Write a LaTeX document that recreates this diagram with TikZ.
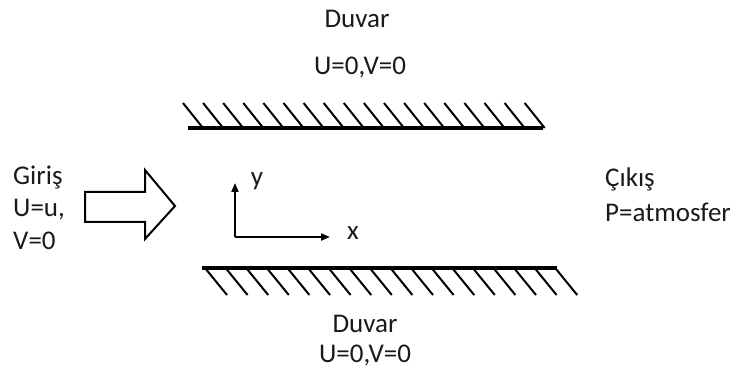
\documentclass[tikz,border=0pt]{standalone}
\usepackage{fontspec}
\setmainfont{Carlito}
\usepackage{xcolor}
\definecolor{inkgray}{HTML}{1A1A1A}
\usepackage{tikz}
\usetikzlibrary{arrows.meta,positioning}
\tikzset{
  labeltext/.style={text=inkgray,font=\fontsize{27}{32}\selectfont,inner sep=0pt},
  wallline/.style={line width=3.6pt,black},
  hatchline/.style={line width=2pt,black},
  axisarrow/.style={-{Triangle[length=9pt,width=7pt]},line width=2pt,black},
  inletarrow/.style={draw=black,line width=2pt,fill=white,line join=miter}
}
\begin{document}
\begin{tikzpicture}[x=1pt,y=-1pt]
\useasboundingbox (0,0) rectangle (739,374);
% upper wall
\coordinate (wt1) at (188,128);
\coordinate (wt2) at (543,128);
\draw[wallline] (wt1) -- (wt2);
\foreach \i in {0,...,17}
  \draw[hatchline] (183+20.1*\i,103) -- ++(20,25);
% lower wall
\coordinate (wb1) at (202,268);
\coordinate (wb2) at (557,268);
\draw[wallline] (wb1) -- (wb2);
\foreach \i in {0,...,17}
  \draw[hatchline] (205+20.6*\i,268) -- ++(22,27);
% inlet arrow
\draw[inletarrow] (85,192) -- (145,192) -- (145,170) -- (175,206)
  -- (145,239) -- (145,222) -- (85,222) -- cycle;
% axes
\coordinate (o) at (235,237);
\coordinate (xend) at (330,237);
\coordinate (yend) at (235,183);
\draw[axisarrow] (o) -- (xend);
\draw[axisarrow] (o) -- (yend);
\node[labeltext,anchor=base] (xlab) at (353,240) {x};
\node[labeltext,anchor=base] (ylab) at (257,186) {y};
% labels
\node[labeltext,anchor=base] (topwall) at (357,28) {Duvar};
\node[labeltext,anchor=base] (topbc) at (360,75) {U=0,V=0};
\node[labeltext,anchor=base] (botwall) at (365,332) {Duvar};
\node[labeltext,anchor=base] (botbc) at (365,362) {U=0,V=0};
\node[labeltext,anchor=base west] (inl1) at (13,185) {Giriş};
\node[labeltext,anchor=base west] (inl2) at (13,217) {U=u,};
\node[labeltext,anchor=base west] (inl3) at (13,250) {V=0};
\node[labeltext,anchor=base west] (out1) at (605,187) {Çıkış};
\node[labeltext,anchor=base west] (out2) at (605,222) {P=atmosfer};
\end{tikzpicture}
\end{document}
